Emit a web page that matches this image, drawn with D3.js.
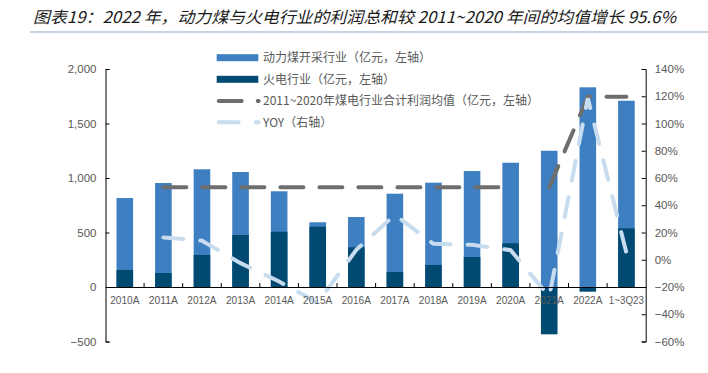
<!DOCTYPE html>
<html>
<head>
<meta charset="utf-8">
<script src="https://cdn.jsdelivr.net/npm/d3@7"></script>
<style>
  body { margin: 0; background: #fff; }
  .ticktext { font-family: "Liberation Sans", Arial, sans-serif; font-size: 11.5px; fill: #595959; }
  .legendtext { font-family: "Noto Sans CJK SC", sans-serif; font-size: 12px; fill: #595959; }
</style>
</head>
<body>
<div id="chart"></div>
<script>
// values
var categories = ["2010A", "2011A", "2012A", "2013A", "2014A", "2015A", "2016A",
                  "2017A", "2018A", "2019A", "2020A", "2021A", "2022A", "1~3Q23"];
var coalProfit = [816, 954, 1080, 1055, 878, 594, 642, 856, 957, 1064, 1140, 1250, 1832, 1709];
var powerProfit = [156, 128, 294, 477, 507, 553, 364, 138, 202, 275, 401, -434, -43, 538];
// 2011~2020 mean, then the later segment drawn separately
var avgValues = [null, 915, 915, 915, 915, 915, 915, 915, 915, 915, 915, null, null, null];
var recentValues = [null, null, null, null, null, null, null, null, null, null, null, 915, 1745, 1745];
var yoyValues = [null, 0.164, 0.14, -0.025, -0.16, -0.315, 0.073, 0.33, 0.117, 0.11, 0.07, -0.27, 1.186, 0.05];

var leftTicks = [-500, 0, 500, 1000, 1500, 2000];
var rightTicks = [-0.6, -0.4, -0.2, 0, 0.2, 0.4, 0.6, 0.8, 1.0, 1.2, 1.4];
var legendLabels = ["动力煤开采行业（亿元，左轴）", "火电行业（亿元，左轴）",
                    "2011~2020年煤电行业合计利润均值（亿元，左轴）", "YOY（右轴）"];
var titleText = "图表19：2022 年，动力煤与火电行业的利润总和较 2011~2020 年间的均值增长 95.6%";

var colors = { coal: "#3e7fc1", power: "#004a72", avg: "#6e6e6e", yoy: "#c8dcf0" };

var svg = d3.select("#chart").append("svg")
    .attr("width", 708)
    .attr("height", 373);

svg.append("rect").attr("width", 708).attr("height", 373).attr("fill", "#fff");

//title and the line under it
svg.append("text")
    .attr("x", 33)
    .attr("y", 23)
    .attr("textLength", 643)
    .attr("lengthAdjust", "spacingAndGlyphs")
    .style("font-family", "'Noto Sans CJK SC', sans-serif")
    .style("font-style", "italic")
    .style("font-size", "16px")
    .style("fill", "#1a1a1a")
    .text(titleText);

svg.append("line")
    .attr("x1", 30).attr("x2", 708)
    .attr("y1", 32).attr("y2", 32)
    .attr("stroke", "#c5d3e0")
    .attr("stroke-width", 2);

var x = d3.scaleBand().domain(categories).range([105.5, 645.7]);
var yL = d3.scaleLinear().domain([-500, 2000]).range([341.5, 69]);
var yR = d3.scaleLinear().domain([-0.6, 1.4]).range([341.5, 69]);
var barW = x.bandwidth() * 0.43;

var rows = categories.map(function(c, i) {
    return { cat: c, coal: coalProfit[i], power: powerProfit[i],
             avg: avgValues[i], recent: recentValues[i], yoy: yoyValues[i] };
});

//bars overlap at the same position, dark one in front
svg.append("g").selectAll("rect")
    .data(rows)
    .enter()
    .append("rect")
    .attr("x", function(d) { return x(d.cat) + (x.bandwidth() - barW) / 2; })
    .attr("y", function(d) { return Math.min(yL(d.coal), yL(0)); })
    .attr("width", barW)
    .attr("height", function(d) { return Math.abs(yL(d.coal) - yL(0)); })
    .attr("fill", colors.coal);

svg.append("g").selectAll("rect")
    .data(rows)
    .enter()
    .append("rect")
    .attr("x", function(d) { return x(d.cat) + (x.bandwidth() - barW) / 2; })
    .attr("y", function(d) { return Math.min(yL(d.power), yL(0)); })
    .attr("width", barW)
    .attr("height", function(d) { return Math.abs(yL(d.power) - yL(0)); })
    .attr("fill", colors.power);

var cx = function(d) { return x(d.cat) + x.bandwidth() / 2; };

var avgLine = d3.line().defined(function(d) { return d.avg != null; })
    .x(cx).y(function(d) { return yL(d.avg); });
var recentLine = d3.line().defined(function(d) { return d.recent != null; })
    .x(cx).y(function(d) { return yL(d.recent); });
var yoyLine = d3.line().defined(function(d) { return d.yoy != null; })
    .x(cx).y(function(d) { return yR(d.yoy); });

[avgLine, recentLine].forEach(function(gen) {
    svg.append("path")
        .datum(rows)
        .attr("d", gen)
        .attr("fill", "none")
        .attr("stroke", colors.avg)
        .attr("stroke-width", 4)
        .attr("stroke-linecap", "round")
        .attr("stroke-dasharray", "23,16");
});

svg.append("path")
    .datum(rows)
    .attr("d", yoyLine)
    .attr("fill", "none")
    .attr("stroke", colors.yoy)
    .attr("stroke-width", 4)
    .attr("stroke-linecap", "round")
    .attr("stroke-dasharray", "20,17");

//left axis
var leftAxis = svg.append("g")
    .attr("transform", "translate(105.5,0)")
    .call(d3.axisLeft(yL).tickValues(leftTicks).tickSize(-4).tickSizeOuter(-4)
        .tickPadding(9).tickFormat(d3.format(",")));

//right axis
var rightAxis = svg.append("g")
    .attr("transform", "translate(645.7,0)")
    .call(d3.axisRight(yR).tickValues(rightTicks).tickSize(-4).tickSizeOuter(-4)
        .tickPadding(9).tickFormat(d3.format(".0%")));

//category axis on the zero line
var xAxis = svg.append("g")
    .attr("transform", "translate(0," + yL(0) + ")")
    .call(d3.axisBottom(x).tickSize(0).tickSizeOuter(0).tickPadding(9));

xAxis.selectAll(".boundary")
    .data(categories.slice(1))
    .enter()
    .append("line")
    .attr("class", "boundary")
    .attr("x1", function(d) { return x(d); })
    .attr("x2", function(d) { return x(d); })
    .attr("y1", 0)
    .attr("y2", -4)
    .attr("stroke", "#000");

[leftAxis, rightAxis, xAxis].forEach(function(g) {
    g.selectAll("path.domain").attr("stroke", "#000");
    g.selectAll(".tick line").attr("stroke", "#000");
    g.selectAll("text").attr("class", "ticktext").attr("font-family", null).attr("font-size", null);
});

//category labels use narrow half-width glyphs in the reference
xAxis.selectAll(".tick text")
    .attr("textLength", function(d) { return d.length * 5.85; })
    .attr("lengthAdjust", "spacingAndGlyphs");

//legend
var legendY = [57.7, 79.3, 101, 122.3];
var legend = svg.append("g");

legend.append("rect").attr("x", 216.7).attr("y", legendY[0] - 3.5).attr("width", 41.6).attr("height", 7).attr("fill", colors.coal);
legend.append("rect").attr("x", 216.7).attr("y", legendY[1] - 3.5).attr("width", 41.6).attr("height", 7).attr("fill", colors.power);

legend.append("line")
    .attr("x1", 218.7).attr("x2", 258.7)
    .attr("y1", legendY[2]).attr("y2", legendY[2])
    .attr("stroke", colors.avg).attr("stroke-width", 4)
    .attr("stroke-linecap", "round").attr("stroke-dasharray", "23,16");

legend.append("line")
    .attr("x1", 218.7).attr("x2", 258.7)
    .attr("y1", legendY[3]).attr("y2", legendY[3])
    .attr("stroke", colors.yoy).attr("stroke-width", 4)
    .attr("stroke-linecap", "round").attr("stroke-dasharray", "20,17");

legend.selectAll("text")
    .data(legendLabels)
    .enter()
    .append("text")
    .attr("class", "legendtext")
    .attr("x", 263)
    .attr("y", function(d, i) { return legendY[i] + 4.3; })
    .text(function(d) { return d; });
</script>
</body>
</html>
